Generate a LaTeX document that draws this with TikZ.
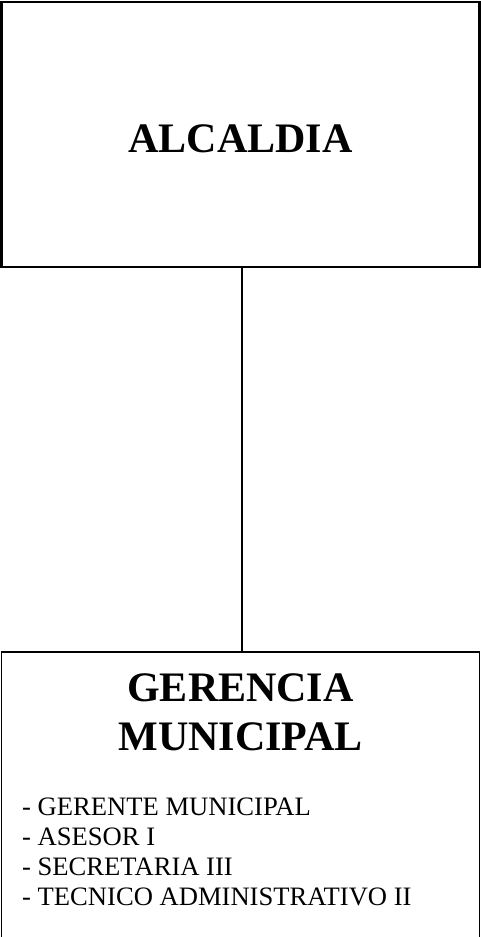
\documentclass[tikz,border=0pt]{standalone}
\usepackage{fontspec}
\setmainfont{Liberation Serif}
\usetikzlibrary{positioning}
\tikzset{
  every node/.style={font=\fontsize{26.6}{30}\selectfont},
  unitbox/.style={
    rectangle,
    draw=black,
    line width=1.3pt,
    inner sep=0pt,
    fill=white
  },
  unittitle/.style={font=\bfseries\fontsize{42}{48}\selectfont,align=center,inner sep=0pt},
  staff/.style={align=left,inner sep=0pt},
  link/.style={draw=black,line width=1.3pt}
}

\begin{document}
\begin{tikzpicture}[x=1pt,y=1pt]
  \useasboundingbox (0,0) rectangle (481,937);

  % Recuadro superior.
  \node[unitbox,line width=2.2pt,minimum width=478pt,minimum height=265pt]
    (alcaldia) at (240.5,802.5) {};
  \node[unittitle,anchor=base] (alcaldia-title) at (240.5,784) {ALCALDIA};

  % Recuadro inferior: su borde de abajo queda fuera de la hoja.
  \node[unitbox,minimum width=478pt,minimum height=290pt]
    (gerencia) at (240.5,140) {};
  \node[unittitle,anchor=base] (gerencia-title1) at (240.5,235) {GERENCIA};
  \node[unittitle,anchor=base] (gerencia-title2) at (240.5,186) {MUNICIPAL};

  % Cargos de la gerencia (base = última línea).
  \node[staff,anchor=base west] (cargos) at (22,31.3)
    {- GERENTE MUNICIPAL\\- ASESOR I\\- SECRETARIA III\\- TECNICO ADMINISTRATIVO II};

  % Dependencia jerárquica.
  \draw[link] ([xshift=1.5pt]alcaldia.south) -- ([xshift=1.5pt]gerencia.north);
\end{tikzpicture}
\end{document}
